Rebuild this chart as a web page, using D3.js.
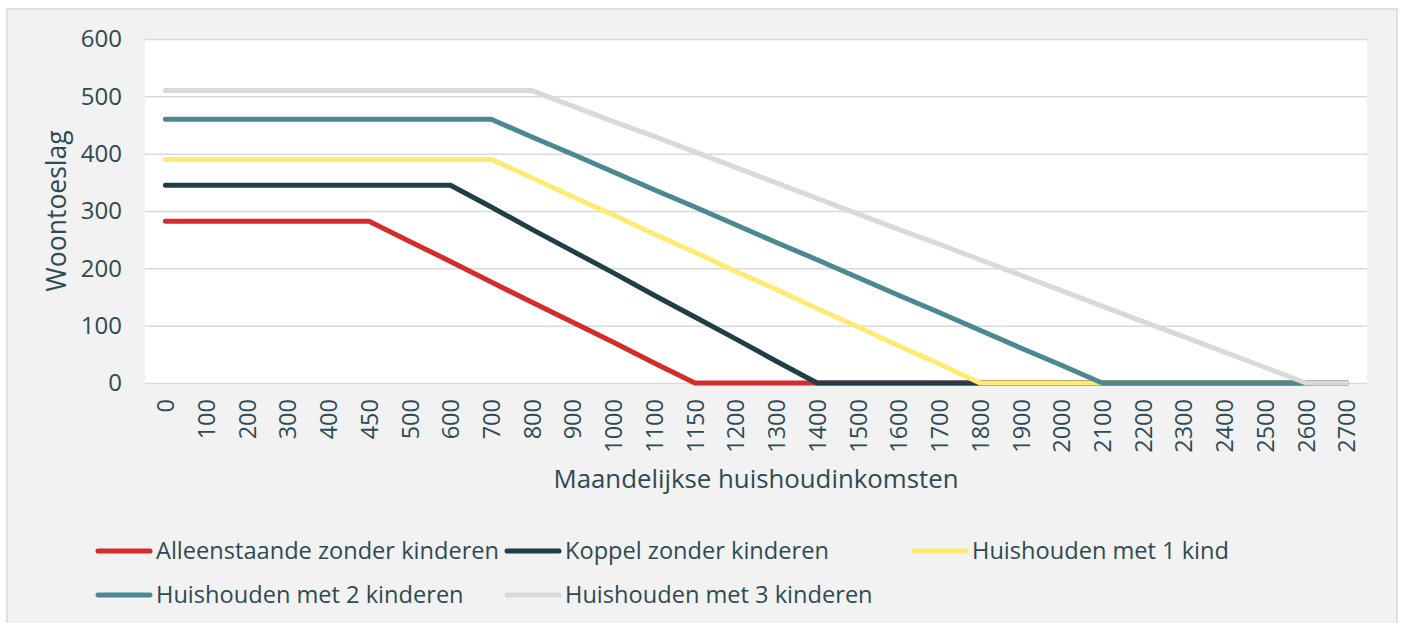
<!DOCTYPE html>
<html>
<head>
<meta charset="utf-8">
<script src="https://cdn.jsdelivr.net/npm/d3@7"></script>
<style>
  html, body { margin: 0; padding: 0; background: #ffffff; }
  svg { display: block; }
  text { font-family: "Open Sans", Lato, sans-serif; fill: #2e4a52; }
</style>
</head>
<body>
<svg id="chart" width="1402" height="623"></svg>
<script>
// ---------- data ----------
const categories = ["0","100","200","300","400","450","500","600","700","800","900","1000","1100","1150","1200","1300","1400","1500","1600","1700","1800","1900","2000","2100","2200","2300","2400","2500","2600","2700"];

const alleenstaande = [282,282,282,282,282,282,247,212,176,141,106,71,35,0,0,0,0,0,0,0,0,0,0,0,0,0,0,0,0,0];
const koppel        = [345,345,345,345,345,345,345,345,307,268,230,192,153,115,77,38,0,0,0,0,0,0,0,0,0,0,0,0,0,0];
const eenKind       = [390,390,390,390,390,390,390,390,390,358,325,293,260,228,195,163,130,98,65,33,0,0,0,0,0,0,0,0,0,0];
const tweeKinderen  = [460,460,460,460,460,460,460,460,460,429,399,368,337,307,276,245,215,184,153,123,92,61,31,0,0,0,0,0,0,0];
const drieKinderen  = [510,510,510,510,510,510,510,510,510,510,483,456,430,403,376,349,322,295,268,242,215,188,161,134,107,81,54,27,0,0];

const seriesNames = ["Alleenstaande zonder kinderen","Koppel zonder kinderen","Huishouden met 1 kind","Huishouden met 2 kinderen","Huishouden met 3 kinderen"];
const seriesColors = ["#d42b2b","#203e45","#ffeb73","#4b8892","#d9d9d9"];
const yTicks = [0,100,200,300,400,500,600];
const xTitle = "Maandelijkse huishoudinkomsten";
const yTitle = "Woontoeslag";

const seriesValues = [alleenstaande, koppel, eenKind, tweeKinderen, drieKinderen];

// ---------- layout ----------
const svg = d3.select("#chart");
const plot = { left: 145, right: 1367, top: 39, bottom: 383 };
const FONT = "'Open Sans', Lato, sans-serif";

// panel background
svg.append("rect")
  .attr("x", 7).attr("y", 9).attr("width", 1390).attr("height", 630)
  .attr("fill", "#f2f2f2").attr("stroke", "#d9d9d9").attr("stroke-width", 1.5);

// plot area
svg.append("rect")
  .attr("x", plot.left).attr("y", plot.top)
  .attr("width", plot.right - plot.left).attr("height", plot.bottom - plot.top)
  .attr("fill", "#ffffff");

const x = d3.scalePoint().domain(categories).range([plot.left, plot.right]).padding(0.5);
const y = d3.scaleLinear().domain([0, 600]).range([plot.bottom, plot.top]);

// gridlines
svg.append("g")
  .attr("transform", `translate(${plot.left},0)`)
  .call(d3.axisLeft(y).tickValues(yTicks).tickSize(-(plot.right - plot.left)).tickFormat(""))
  .call(g => g.select(".domain").remove())
  .call(g => g.selectAll("line").attr("stroke", "#d9d9d9").attr("stroke-width", 1.5));

// y axis labels
svg.append("g")
  .attr("transform", `translate(${plot.left},0)`)
  .call(d3.axisLeft(y).tickValues(yTicks).tickSize(0).tickPadding(23))
  .call(g => g.select(".domain").remove())
  .call(g => g.selectAll("text").attr("font-size", 24).attr("fill", "#2e4a52")
      .style("font-family", FONT));

// x axis labels
svg.append("g")
  .attr("transform", `translate(0,${plot.bottom})`)
  .call(d3.axisBottom(x).tickSize(0))
  .call(g => g.select(".domain").remove())
  .call(g => g.selectAll("text")
      .attr("font-size", 23.5).attr("fill", "#2e4a52")
      .style("font-family", FONT)
      .attr("text-anchor", "end")
      .attr("transform", "rotate(-90)")
      .attr("x", -16).attr("y", 0).attr("dy", "0.35em"));

// lines
const line = d3.line()
  .x((d, i) => x(categories[i]))
  .y(d => y(d));

seriesValues.forEach((vals, k) => {
  svg.append("path")
    .datum(vals)
    .attr("d", line)
    .attr("fill", "none")
    .attr("stroke", seriesColors[k])
    .attr("stroke-width", 5)
    .attr("stroke-linejoin", "round")
    .attr("stroke-linecap", "round");
});

// axis titles
svg.append("text")
  .attr("x", (plot.left + plot.right) / 2).attr("y", 479)
  .attr("dy", "0.35em")
  .attr("text-anchor", "middle")
  .attr("font-size", 25.8)
  .text(xTitle);

svg.append("text")
  .attr("transform", `translate(57,${(plot.top + plot.bottom) / 2}) rotate(-90)`)
  .attr("dy", "0.35em")
  .attr("text-anchor", "middle")
  .attr("font-size", 26.5)
  .text(yTitle);

// legend
const legendCols = [96, 505, 912];
const legendRows = [551, 595];
const legend = svg.append("g");
seriesNames.forEach((name, k) => {
  const cx = legendCols[k % 3];
  const cy = legendRows[Math.floor(k / 3)];
  const g = legend.append("g").attr("transform", `translate(${cx},${cy})`);
  g.append("line")
    .attr("x1", 2).attr("x2", 54).attr("y1", 0).attr("y2", 0)
    .attr("stroke", seriesColors[k]).attr("stroke-width", 5)
    .attr("stroke-linecap", "round");
  g.append("text")
    .attr("x", 60).attr("y", 0).attr("dy", "0.35em")
    .attr("font-size", 23.6)
    .text(name);
});
</script>
</body>
</html>
